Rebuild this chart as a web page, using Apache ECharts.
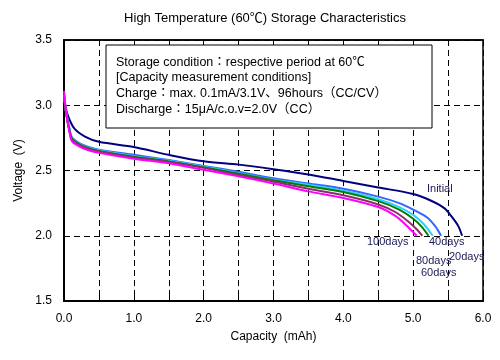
<!DOCTYPE html>
<html><head><meta charset="utf-8">
<script src="https://cdn.jsdelivr.net/npm/echarts@6/dist/echarts.min.js"></script>
<style>html,body{margin:0;padding:0;background:#fff}#c{width:500px;height:360px}</style>
</head><body><div id="c"></div>
<script>
const titleText = 'High Temperature (60℃) Storage Characteristics';
const xName = 'Capacity  (mAh)';
const yName = 'Voltage  (V)';
const boxLines = [
  'Storage condition：respective period at 60℃',
  '[Capacity measurement conditions]',
  'Charge：max. 0.1mA/3.1V、96hours（CC/CV）',
  'Discharge：15μA/c.o.v=2.0V（CC）'
];
const seriesNames = ['Initial','20days','40days','60days','80days','100days'];
const seriesColors = ['#000080','#3366FF','#33CCFF','#008000','#8B2F6B','#FF00FF'];
const initial = [[0,3.05],[0.05,2.93],[0.15,2.82],[0.3,2.76],[0.5,2.72],[1.0,2.68],[1.5,2.62],[2.0,2.57],[2.5,2.545],[3.0,2.51],[3.5,2.47],[4.0,2.42],[4.5,2.37],[5.0,2.32],[5.25,2.27],[5.45,2.21],[5.56,2.14],[5.65,2.07],[5.70,2.0]];
const days20 = [[0,3.08],[0.03,2.95],[0.08,2.82],[0.12,2.75],[0.3,2.69],[0.5,2.66],[1.0,2.62],[1.5,2.58],[2.0,2.535],[2.5,2.49],[3.0,2.44],[3.5,2.40],[4.0,2.36],[4.5,2.30],[4.8,2.25],[5.0,2.20],[5.2,2.14],[5.32,2.07],[5.40,2.0]];
const days40 = [[0,3.08],[0.03,2.95],[0.08,2.81],[0.12,2.745],[0.3,2.685],[0.5,2.655],[1.0,2.61],[1.5,2.575],[2.0,2.53],[2.5,2.48],[3.0,2.43],[3.5,2.39],[4.0,2.345],[4.5,2.28],[4.8,2.22],[5.0,2.16],[5.15,2.09],[5.28,2.0]];
const days60 = [[0,3.08],[0.03,2.94],[0.08,2.80],[0.12,2.74],[0.3,2.68],[0.5,2.65],[1.0,2.605],[1.5,2.57],[2.0,2.525],[2.5,2.475],[3.0,2.425],[3.5,2.38],[4.0,2.335],[4.5,2.265],[4.8,2.20],[5.0,2.13],[5.12,2.07],[5.22,2.0]];
const days80 = [[0,3.08],[0.03,2.94],[0.08,2.80],[0.12,2.73],[0.3,2.675],[0.5,2.645],[1.0,2.60],[1.5,2.565],[2.0,2.52],[2.5,2.465],[3.0,2.415],[3.5,2.36],[4.0,2.31],[4.5,2.24],[4.75,2.18],[4.95,2.10],[5.05,2.05],[5.13,2.0]];
const days100 = [[0,3.11],[0.03,2.95],[0.08,2.79],[0.12,2.72],[0.3,2.665],[0.5,2.635],[1.0,2.59],[1.5,2.555],[2.0,2.505],[2.5,2.455],[3.0,2.40],[3.5,2.34],[4.0,2.29],[4.5,2.22],[4.75,2.15],[4.9,2.08],[5.05,2.0]];
const allData = [initial, days20, days40, days60, days80, days100];
const curveLabels = [
  {text:'Initial', x:427, y:190},
  {text:'100days', x:367, y:243},
  {text:'40days', x:429, y:243},
  {text:'20days', x:449, y:258},
  {text:'80days', x:416, y:262},
  {text:'60days', x:421, y:274}
];

const FONT = '"Liberation Sans", Arial, "Noto Sans CJK JP", sans-serif';
const chart = echarts.init(document.getElementById('c'), null, {renderer:'canvas'});
const dash = {type:[6,4], color:'#000', width:1};
const fmt1 = v => (Math.abs(v - Math.round(v)) < 1e-6 ? v.toFixed(1) : '');

const graphics = [
  {type:'rect', z:100, shape:{x:106, y:45, width:326, height:83}, style:{fill:'#fff', stroke:'#000', lineWidth:1}}
];
boxLines.forEach((t,i)=>{
  graphics.push({type:'text', z:101, left:116, top:56 + i*15.7, style:{text:t, font:'12.5px ' + FONT, fill:'#000'}});
});
curveLabels.forEach(l=>{
  graphics.push({type:'text', z:101, left:l.x, top:l.y-7, style:{text:l.text, font:'11px ' + FONT, fill:'#1a1a55'}});
});

chart.setOption({
  animation:false,
  backgroundColor:'#fff',
  title:{text:titleText, left:260, textAlign:'center', top:7, textStyle:{fontFamily:FONT, fontSize:13, fontWeight:'normal', color:'#000'}},
  grid:{left:64, right:17, top:40, bottom:59, show:true, borderColor:'#000', borderWidth:1.5},
  xAxis:[{
    type:'value', min:0, max:6, interval:0.5,
    name:xName, nameLocation:'middle', nameGap:30,
    nameTextStyle:{fontFamily:FONT, fontSize:12, color:'#000'},
    axisLine:{show:true, onZero:false, lineStyle:{color:'#000', width:2}},
    axisTick:{show:true, inside:true, length:5, lineStyle:{color:'#000'}},
    axisLabel:{formatter:fmt1, fontFamily:FONT, fontSize:12, color:'#000', margin:12, showMinLabel:true, showMaxLabel:true},
    splitLine:{show:true, lineStyle:dash}
  },{
    type:'value', position:'top', min:0, max:6, interval:0.5,
    axisLine:{show:true, lineStyle:{color:'#000', width:1.5}},
    axisTick:{show:true, inside:true, length:5, lineStyle:{color:'#000'}},
    axisLabel:{show:false}, splitLine:{show:false}
  }],
  yAxis:{
    type:'value', min:1.5, max:3.5, interval:0.5,
    name:yName, nameLocation:'middle', nameGap:38, nameRotate:90,
    nameTextStyle:{fontFamily:FONT, fontSize:12, color:'#000'},
    axisLine:{show:true, onZero:false, lineStyle:{color:'#000', width:2}},
    axisTick:{show:false},
    axisLabel:{formatter:v=>v.toFixed(1), fontFamily:FONT, fontSize:12, color:'#000', margin:12},
    splitLine:{show:true, lineStyle:dash}
  },
  series: allData.map((d,i)=>({
    name:seriesNames[i], type:'line', data:d, xAxisIndex:0, showSymbol:false, smooth:0.3,
    lineStyle:{color:seriesColors[i], width:2}, itemStyle:{color:seriesColors[i]}
  })),
  graphic: graphics
});
</script></body></html>
